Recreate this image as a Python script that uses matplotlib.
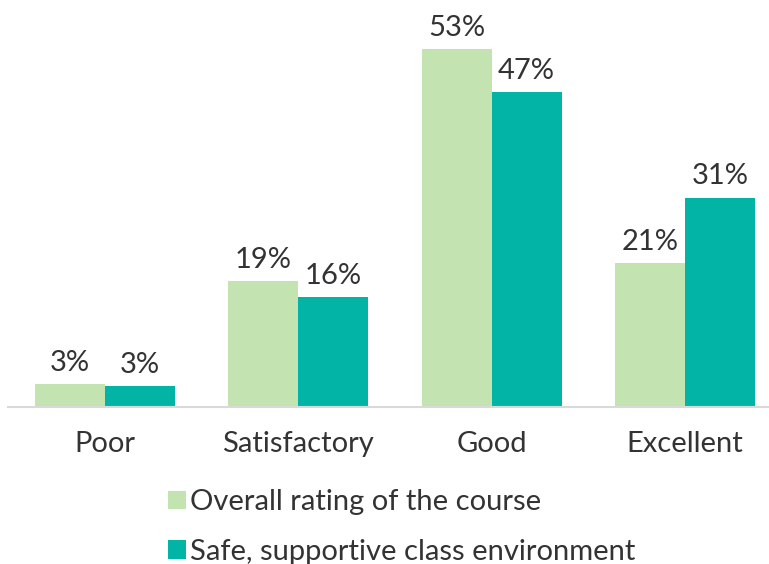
import numpy as np
import matplotlib
matplotlib.use("Agg")
import matplotlib.pyplot as plt
from matplotlib.patches import Patch

plt.rcParams["font.family"] = ["Lato", "DejaVu Sans"]

categories = ["Poor", "Satisfactory", "Good", "Excellent"]
overall    = [3.4, 18.6, 53.0, 21.3]
safe_env   = [3.1, 16.3, 46.6, 31.0]
series_names = ["Overall rating of the course", "Safe, supportive class environment"]

LIGHT = "#C3E4B1"
TEAL  = "#02B4A6"
TXT   = "#333333"
FS    = 21

W, H = 769, 564
fig = plt.figure(figsize=(W / 100, H / 100), dpi=100)
# axes runs past the right edge so the baseline bleeds off the figure
ax = fig.add_axes([8.3 / W, (H - 407) / H, 773.4 / W, 405 / H])

x = np.arange(len(categories))
bw = 0.362
b1 = ax.bar(x - bw / 2, overall, bw, color=LIGHT)
b2 = ax.bar(x + bw / 2, safe_env, bw, color=TEAL)

for bars, vals in ((b1, overall), (b2, safe_env)):
    for rect, v in zip(bars, vals):
        ax.annotate(f"{v:.0f}%", (rect.get_x() + rect.get_width() / 2, v),
                    xytext=(0, 6), textcoords="offset points",
                    ha="center", va="bottom", fontsize=FS, color=TXT)

ax.set_xlim(-0.5, 3.5)
ax.set_ylim(0, 60)
ax.set_xticks(x)
ax.set_xticklabels(categories, fontsize=FS, color=TXT)
ax.tick_params(axis="x", length=0, pad=17)
ax.set_yticks([])
for s in ("top", "right", "left"):
    ax.spines[s].set_visible(False)
ax.spines["bottom"].set_color("#D9D9D9")
ax.spines["bottom"].set_linewidth(1.5)

handles = [Patch(facecolor=LIGHT, edgecolor="none"), Patch(facecolor=TEAL, edgecolor="none")]
fig.legend(handles, series_names, loc="center left",
           bbox_to_anchor=(142 / W, (H - 527) / H), frameon=False,
           fontsize=FS, labelcolor=TXT, handlelength=0.6, handleheight=0.6,
           handletextpad=0.15, labelspacing=0.8)

fig.savefig("out.png", dpi=100)
